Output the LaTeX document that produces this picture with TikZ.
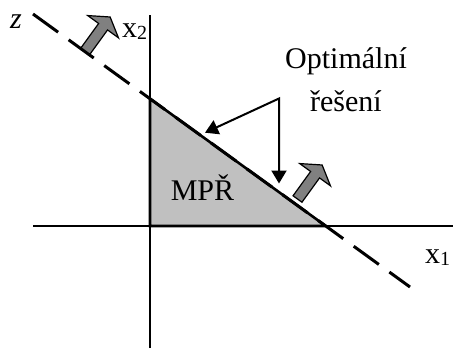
\documentclass[tikz,border=0pt]{standalone}
\usepackage{fontspec}
\setmainfont{Liberation Serif}
\usetikzlibrary{arrows.meta}
\definecolor{regiongray}{RGB}{192,192,192}
\definecolor{arrowgray}{RGB}{128,128,128}
\newcommand{\lowidx}[1]{\raisebox{-2.5pt}{\fontsize{20}{20}\selectfont #1}}

\begin{document}
\begin{tikzpicture}[x=1pt, y=-1pt, font=\fontsize{30}{36}\selectfont, line join=miter]
\tikzset{
    axis/.style={line width=1.4pt},
    region/.style={draw, fill=regiongray, line width=2.6pt},
    objline/.style={line width=3pt, dash pattern=on 31pt off 13pt},
    pointer/.style={line width=2pt, {Triangle[length=13pt,width=15pt]}-{Triangle[length=13pt,width=15pt]}},
    txt/.style={inner sep=0pt, anchor=base},
    gradarrow/.pic={\draw[fill=arrowgray, line width=1.2pt] (0,-5.5) -- (30,-5.5) -- (30,-19) -- (42,0) -- (30,19) -- (30,5.5) -- (0,5.5) -- cycle;}
}
\useasboundingbox (0,0) rectangle (453,349);
% axes and feasible region
\coordinate (O) at (150,226); \coordinate (top) at (150,98.7); \coordinate (right) at (325.8,226);
\coordinate (xend) at (453,226); \coordinate (xbeg) at (33,226); \coordinate (yend) at (150,15); \coordinate (ybeg) at (150,348);
\draw[axis] (xbeg) -- (xend); \draw[axis] (ybeg) -- (yend);
\draw[region] (O) -- (top) -- (right) -- cycle;
% objective line z
\coordinate (zstart) at (33,14); \coordinate (zend) at (410,287);
\draw[objline] (zstart) -- (zend);
\pic[rotate=54.09] at (85.5,51) {gradarrow};
\pic[rotate=54.09] at (297.5,199) {gradarrow};
% optimal solution pointers
\coordinate (kink) at (279,98.5); \coordinate (tipA) at (205,132.7); \coordinate (tipB) at (279,183.5);
\draw[pointer] (tipA) -- (kink) -- (tipB);
\node[txt] (optA) at (346,68) {Optimální};
\node[txt] (optB) at (346,111.5) {řešení};
\node[txt] (mpr) at (202.5,200) {MPŘ};
\node[txt] (zlab) at (16,28) {\textit{z}};
\node[txt, anchor=base west] (xtwo) at (122,37) {x\lowidx{2}};
\node[txt, anchor=base west] (xone) at (425,263) {x\lowidx{1}};
\end{tikzpicture}
\end{document}
